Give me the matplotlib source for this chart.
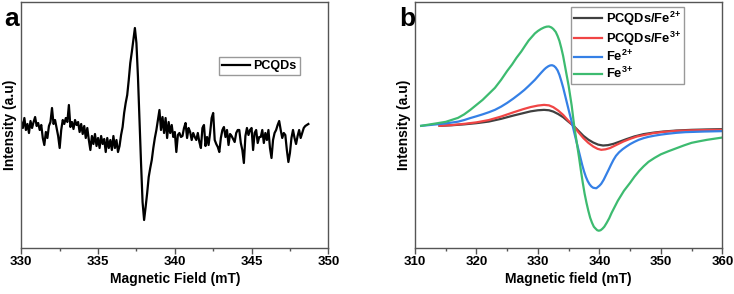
import numpy as np
from matplotlib import pyplot as plt
from matplotlib.ticker import MultipleLocator

plt.rcParams['font.family'] = ['Liberation Sans', 'DejaVu Sans']
plt.rcParams['font.weight'] = 'bold'
plt.rcParams['mathtext.fontset'] = 'custom'
plt.rcParams['mathtext.rm'] = 'Liberation Sans:bold'
plt.rcParams['mathtext.default'] = 'rm'

# panel a: EPR of PCQDs, read at 0.1 mT steps from 330.0 mT
field_a_start = 330.0
field_a_step = 0.1
intensity_a = [
    8, 2, 12, 0, 6, -3, 9, 2, 8, 13,
    4, 7, 0, 5, -8, -15, -2, -8, 4, 8,
    22, 6, 10, 2, -6, -18, 0, 10, 6, 12,
    8, 25, 3, 8, 1, 10, 5, 8, -2, 6,
    -4, 4, -8, 2, -10, -20, -6, -14, -4, -16,
    -8, -18, -6, -14, -9, -22, -8, -18, -10, -20,
    -6, -18, -10, -22, -16, -5, 3, 17, 27, 35,
    50, 67, 78, 90, 102, 87, 53, 10, -33, -72,
    -90, -77, -63, -47, -38, -30, -18, -8, 0, 10,
    20, 0, 13, -3, 12, -8, 8, -3, 5, -7,
    -2, -22, -5, -3, -7, -6, 2, 7, -8, 2,
    -2, -10, -3, -7, -10, -3, -12, -18, 2, 5,
    -16, -7, -15, -3, 12, 17, -10, -14, -17, -22,
    -8, 0, 3, -7, 0, -15, -4, -6, -9, -12,
    -3, 0, 0, -13, -20, -33, -6, 2, -5, 0,
    2, -20, -3, 0, -13, -7, -7, 0, -13, -3,
    -10, 0, -18, -28, -10, -3, 0, 5, 9, 0,
    -8, -3, -5, -20, -32, -23, -8, 0, -8, -14,
    -6, 0, -8, -3, 2, 4, 5, 6,
]

# panel b
field_pf2 = [314.0, 316.0, 318.0, 320.0, 322.0, 324.0, 326.0, 327.6, 328.8, 330.0,
             331.0, 331.8, 332.5, 333.3, 334.1, 334.9, 335.8, 336.6, 337.4, 338.2,
             339.0, 339.8, 340.6, 341.4, 342.3, 343.3, 344.4, 345.7, 347.2, 348.8,
             350.4, 352.5, 355.0, 357.5, 360.0]
int_pf2 = [0, 0.6, 1.5, 2.7, 4.3, 7, 10.3, 12.7, 14.5, 15.6,
           16, 15.6, 14.3, 11.8, 8.7, 4.5, 0, -5, -10, -13.8,
           -16.7, -18.8, -19.7, -19.3, -18, -15.8, -13.3, -10.6, -8.3, -6.8,
           -5.7, -4.7, -4, -3.6, -3.3]

field_pf3 = [314.0, 316.0, 318.0, 320.0, 322.0, 324.0, 326.0, 327.6, 328.8, 330.0,
             331.0, 331.8, 332.5, 333.3, 334.1, 334.9, 335.8, 336.6, 337.4, 338.2,
             339.0, 339.7, 340.3, 341.0, 341.7, 342.8, 343.9, 345.0, 346.1, 347.4,
             348.8, 350.5, 352.6, 355.0, 357.5, 360.0]
int_pf3 = [0, 0.8, 2, 3.5, 5.8, 9.3, 13.5, 16.7, 18.8, 20.3,
           21, 20.5, 18.7, 15.3, 11, 5.5, 0, -6.5, -12.3, -17,
           -20.7, -23, -24, -23.5, -22.3, -19, -15.7, -13, -10.7, -9,
           -7.3, -6, -5, -4.5, -4.2, -4]

field_fe2 = [311.0, 312.0, 313.0, 314.0, 315.0, 316.0, 317.0, 318.0, 319.0, 320.0,
             321.0, 322.0, 323.0, 324.0, 325.0, 326.0, 327.0, 327.8, 328.5, 329.0,
             329.5, 330.0, 330.5, 331.0, 331.3, 331.7, 332.0, 332.3, 332.6, 332.9,
             333.2, 333.5, 333.8, 334.1, 334.4, 334.7, 335.0, 335.5, 336.0, 336.3,
             336.6, 336.9, 337.2, 337.5, 337.8, 338.1, 338.4, 338.7, 339.0, 339.5,
             340.0, 340.3, 340.7, 341.1, 341.5, 341.9, 342.3, 342.7, 343.2, 343.8,
             344.4, 345.0, 345.7, 346.4, 347.2, 348.0, 349.0, 350.0, 351.0, 352.5,
             354.0, 355.5, 357.0, 358.5, 360.0]
int_fe2 = [0, 0.6, 1.2, 1.8, 2.5, 3.3, 4.2, 5.8, 7.8, 9.6,
           11.5, 13.6, 16, 19.2, 23, 27.3, 32, 36, 40, 43,
           46, 49.5, 53, 56.3, 58, 59.7, 60.5, 60.7, 60, 58.3,
           55.5, 51, 45, 38.5, 31, 23.5, 16, 4, -9, -16.5,
           -24, -31.5, -39, -45.5, -51, -55.3, -58.5, -60.7, -62, -62.5,
           -60, -58, -54, -49, -44, -38.8, -34, -30, -26.5, -23.3,
           -20.7, -18.3, -16, -14, -12.3, -11, -9.8, -8.8, -8, -7,
           -6.3, -6, -5.7, -5.5, -5.3]

field_fe3 = [311.0, 312.0, 313.0, 314.0, 315.0, 316.0, 317.0, 318.0, 319.0, 320.0,
             321.0, 322.0, 323.0, 324.0, 325.0, 325.8, 326.5, 327.3, 328.0, 328.5,
             329.0, 329.5, 330.0, 330.5, 331.0, 331.4, 331.8, 332.2, 332.5, 332.9,
             333.2, 333.5, 333.8, 334.1, 334.4, 334.7, 335.0, 335.5, 335.9, 336.4,
             336.7, 337.0, 337.3, 337.6, 337.9, 338.2, 338.5, 338.8, 339.1, 339.4,
             339.65, 339.9, 340.2, 340.5, 340.8, 341.2, 341.6, 342.0, 342.5, 343.0,
             343.5, 344.0, 344.5, 345.0, 345.7, 346.5, 347.2, 348.0, 349.0, 350.0,
             351.2, 352.5, 353.8, 355.0, 356.2, 357.5, 358.8, 360.0]
int_fe3 = [0, 1, 2, 3, 4, 6, 8, 11.5, 16, 21,
           26, 32, 38, 46, 55, 61.5, 68, 74.5, 81, 85.5,
           89, 92.5, 95, 97, 98.5, 99.3, 99.5, 98.5, 97, 94,
           90, 85, 78, 70, 60, 50, 40, 20, 0, -20,
           -32, -45, -57, -68, -77, -85, -92, -97, -101, -103,
           -104.5, -105, -104.5, -103, -101, -97, -92.5, -87, -81, -75,
           -70, -65, -61, -57, -51, -45, -40.5, -36, -32, -28.5,
           -25.5, -22.5, -19.5, -17, -15.5, -14, -12.8, -11.7]

labels_b = ['PCQDs/Fe$^{2{+}}$', 'PCQDs/Fe$^{3{+}}$', 'Fe$^{2{+}}$', 'Fe$^{3{+}}$']
colors_b = ['#404040', '#f04545', '#3580e6', '#3dbb70']


def style_axes(ax, major, minor):
    for s in ax.spines.values():
        s.set_color('#555555')
        s.set_linewidth(1.0)
    ax.xaxis.set_major_locator(MultipleLocator(major))
    ax.xaxis.set_minor_locator(MultipleLocator(minor))
    ax.tick_params(axis='x', which='major', direction='out', length=4, width=1,
                   color='#555555', labelsize=9.5, pad=1.5)
    ax.tick_params(axis='x', which='minor', direction='out', length=2.5, width=1,
                   color='#555555')
    ax.set_yticks([])
    for t in ax.get_xticklabels():
        t.set_fontweight('bold')


fig = plt.figure(figsize=(7.34, 2.94), dpi=100)
W, H = 734.0, 294.0
ax1 = fig.add_axes([21.3 / W, (H - 248) / H, 307 / W, 246.3 / H])
ax2 = fig.add_axes([415 / W, (H - 248) / H, 307.3 / W, 246.3 / H])

field_a = field_a_start + field_a_step * np.arange(len(intensity_a))
ax1.plot(field_a, intensity_a, color='black', lw=1.6, label='PCQDs')
ax1.set_xlim(330, 350)
ax1.set_ylim(-118, 128.3)
style_axes(ax1, 5, 2.5)
ax1.set_xlabel('Magnetic Field (mT)', fontsize=10, fontweight='bold', labelpad=3)
ax1.set_ylabel('Intensity (a.u)', fontsize=10, fontweight='bold', labelpad=3)
ax1.legend(loc='upper left', bbox_to_anchor=(0.644, 0.775), borderaxespad=0,
           prop={'weight': 'bold', 'size': 9}, fancybox=False,
           edgecolor='#999999', framealpha=1, handlelength=2.2, handletextpad=0.3,
           borderpad=0.25)

series = [(field_pf2, int_pf2), (field_pf3, int_pf3), (field_fe2, int_fe2), (field_fe3, int_fe3)]
for (fx, fy), lab, c in zip(series, labels_b, colors_b):
    ax2.plot(fx, fy, color=c, lw=1.6, label=lab)
ax2.set_xlim(310, 360)
ax2.set_ylim(-122.3, 124.3)
style_axes(ax2, 10, 5)
ax2.set_xlabel('Magnetic field (mT)', fontsize=10, fontweight='bold', labelpad=3)
ax2.set_ylabel('Intensity (a.u)', fontsize=10, fontweight='bold', labelpad=3)
ax2.legend(loc='upper left', bbox_to_anchor=(0.508, 0.978), borderaxespad=0,
           prop={'weight': 'bold', 'size': 9.3}, fancybox=False,
           edgecolor='#999999', framealpha=1, handlelength=2.2, handletextpad=0.3,
           borderpad=0.2, labelspacing=0.12)

fig.text(12 / W, 1 - 26 / H, 'a', fontsize=19, fontweight='bold', ha='center', va='baseline')
fig.text(407 / W, 1 - 26 / H, 'b', fontsize=19, fontweight='bold', ha='center', va='baseline')

fig.savefig('out.png', dpi=100)
